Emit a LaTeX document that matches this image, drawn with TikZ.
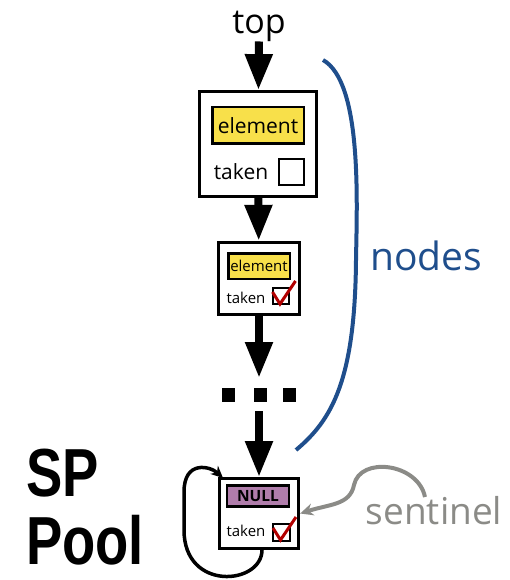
\documentclass[tikz,border=0pt]{standalone}
\usepackage{fontspec}
\setmainfont{Open Sans}
\newfontfamily\poolfont[FakeStretch=0.8]{Liberation Sans}
\usepackage{tikz}
\usetikzlibrary{arrows.meta,positioning}
\definecolor{elemYellow}{RGB}{248,224,74}
\definecolor{nullPurple}{RGB}{176,125,171}
\definecolor{tickRed}{RGB}{178,0,0}
\definecolor{nodesBlue}{RGB}{31,78,140}
\definecolor{sentGray}{RGB}{139,139,135}

\newcommand{\tickmark}[1]{%
  \draw[tick] ([shift={(-8.5,-4)}]#1.center) -- ([shift={(-1,8)}]#1.center)
    -- ([shift={(14.5,-15)}]#1.center);}

\begin{document}
\begin{tikzpicture}[x=1pt,y=-1pt,
    nodebox/.style={draw, line width=2.8pt, fill=white, inner sep=0pt},
    elembox/.style={draw, line width=2.5pt, fill=elemYellow, inner sep=0pt},
    nullbox/.style={draw, line width=2.5pt, fill=nullPurple, inner sep=0pt},
    chkbox/.style={draw, line width=2pt, fill=white, inner sep=0pt},
    link/.style={line width=8pt, -{Triangle[length=36pt,width=26pt]}},
    tick/.style={tickRed, line width=3pt},
    dot/.style={fill, inner sep=0pt, minimum width=13pt, minimum height=14pt}]
    \useasboundingbox (0,0) rectangle (510,580);

    % head pointer
    \node[font=\fontsize{34}{40}\selectfont, inner sep=0pt] (top) at (259,26) {top};

    % first node
    \node[nodebox, minimum width=117pt, minimum height=105pt] (n1) at (258,144) {};
    \node[elembox, minimum width=91.5pt, minimum height=36.5pt,
        font=\fontsize{21}{24}\selectfont] (e1) at (258,125.5) {element};
    \node[font=\fontsize{21}{24}\selectfont, inner sep=0pt] (t1) at (241,172) {taken};
    \node[chkbox, minimum size=25pt] (c1) at (291.5,172) {};

    % second node
    \node[nodebox, minimum width=81.5pt, minimum height=72.5pt] (n2) at (259,278.5) {};
    \node[elembox, minimum width=61.5pt, minimum height=25.5pt,
        font=\fontsize{15}{18}\selectfont] (e2) at (259,266) {element};
    \node[font=\fontsize{15}{18}\selectfont, inner sep=0pt] (t2) at (246,298) {taken};
    \node[chkbox, minimum size=16pt] (c2) at (281,296) {};
    \tickmark{c2}

    % sentinel node
    \node[nodebox, minimum width=79.5pt, minimum height=70pt] (n3) at (259,513.5) {};
    \node[nullbox, minimum width=62pt, minimum height=21pt,
        font=\fontsize{15.5}{18}\selectfont\bfseries] (e3) at (258,496) {NULL};
    \node[font=\fontsize{15}{18}\selectfont, inner sep=0pt] (t3) at (246,531) {taken};
    \node[chkbox, minimum size=17pt] (c3) at (281.5,532) {};
    \tickmark{c3}

    % the rest of the list
    \foreach \dx [count=\i] in {228,260,289.5}
        \node[dot] (dot\i) at (\dx,395) {};
    \coordinate (gapA) at (259,378);
    \coordinate (gapB) at (259,411);

    % links
    \draw[link] (top) -- (n1);
    \draw[link] (n1) -- (n2);
    \draw[link] (n2) -- (gapA);
    \draw[link] (gapB) -- (n3);

    % pool loop
    \draw[line width=3.5pt, -{Stealth[length=12pt,width=11pt]}]
        ([xshift=3pt]n3.south) .. controls (262,585) and (184,592) .. (184,530)
        -- (184,492) .. controls (184,460) and (210,466) .. (223,478);

    % nodes brace
    \draw[nodesBlue, line width=4pt] (323,60) .. controls (362,82) and (357,200) .. (356,260)
        .. controls (355,380) and (332,420) .. (296,450);
    \node[nodesBlue, font=\fontsize{39}{44}\selectfont, inner sep=0pt] (nodes) at (426,256) {nodes};

    % sentinel label
    \node[sentGray, font=\fontsize{37}{42}\selectfont, inner sep=0pt] (sent) at (434,511) {sentinel};
    \draw[sentGray, line width=4pt, -{Stealth[length=13pt,width=12pt]}]
        (425,497) .. controls (418,463) and (360,456) .. (354,485)
        .. controls (350,505) and (330,504) .. (n3.east);

    % pool name
    \node[font=\poolfont\bfseries\fontsize{68}{68}\selectfont, anchor=west, inner sep=0pt] (sp) at (26,473) {SP};
    \node[font=\poolfont\bfseries\fontsize{68}{68}\selectfont, anchor=west, inner sep=0pt] (pool) at (26,540) {Pool};
\end{tikzpicture}
\end{document}
